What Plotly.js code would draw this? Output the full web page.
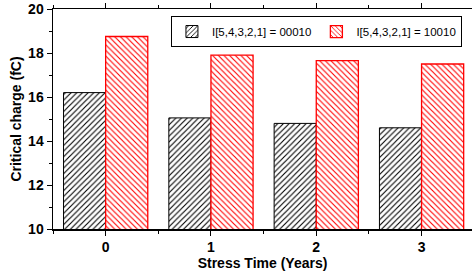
<!DOCTYPE html>
<html><head><meta charset="utf-8">
<script src="https://cdn.plot.ly/plotly-3.0.1.min.js"></script>
<style>html,body{margin:0;padding:0;background:#fff}</style>
</head><body><div id="c" style="width:472px;height:275px"></div>
<script>
const years = [0, 1, 2, 3];
const series1Name = "I[5,4,3,2,1] = 00010";
const series1 = [16.2, 15.05, 14.8, 14.6];
const series2Name = "I[5,4,3,2,1] = 10010";
const series2 = [18.75, 17.9, 17.65, 17.5];

const traces = [
  {type:'bar', x:years, y:series1, name:series1Name,
   marker:{color:'#ffffff', line:{color:'#000000', width:1},
     pattern:{shape:'/', fgcolor:'#000000', bgcolor:'#ffffff', size:4, solidity:0.28}}},
  {type:'bar', x:years, y:series2, name:series2Name,
   marker:{color:'#ffffff', line:{color:'#ff0000', width:1.3},
     pattern:{shape:'\\', fgcolor:'#ff0000', bgcolor:'#ffffff', size:4, solidity:0.28}}}
];
const boldFont = {size:14, family:'Arial', weight:'bold', color:'#000'};
const layout = {
  width:472, height:275,
  margin:{l:53, r:0, t:9, b:46},
  paper_bgcolor:'#fff', plot_bgcolor:'#fff',
  barmode:'group', bargap:0.2, bargroupgap:0,
  font:{family:'Arial, Liberation Sans, sans-serif', color:'#000'},
  xaxis:{range:[-0.5, 3.479], tickmode:'array', tickvals:years, ticktext:years.map(String),
    ticks:'outside', ticklen:5, tickwidth:1, tickcolor:'#000',
    minor:{dtick:0.5, tick0:0.5, ticks:'outside', ticklen:3, tickcolor:'#000'},
    showline:true, linecolor:'#000', linewidth:1.5, mirror:'ticks', showgrid:false, zeroline:false,
    tickfont:boldFont,
    title:{text:'Stress Time (Years)', font:boldFont, standoff:4}},
  yaxis:{range:[10, 20], dtick:2, ticks:'outside', ticklen:5, tickwidth:1, tickcolor:'#000',
    minor:{dtick:1, ticks:'outside', ticklen:3, tickcolor:'#000'},
    showline:true, linecolor:'#000', linewidth:1.5, mirror:'ticks', showgrid:false, zeroline:false,
    tickfont:boldFont,
    title:{text:'Critical charge (fC)', font:boldFont, standoff:3}},
  showlegend:true,
  legend:{orientation:'h', x:0.976, xanchor:'right', y:0.968, yanchor:'top',
    bordercolor:'#000', borderwidth:1, bgcolor:'#fff',
    font:{size:11.5, family:'Arial'}, itemwidth:30, tracegroupgap:0}
};
Plotly.newPlot('c', traces, layout, {displayModeBar:false, staticPlot:true});
</script></body></html>
